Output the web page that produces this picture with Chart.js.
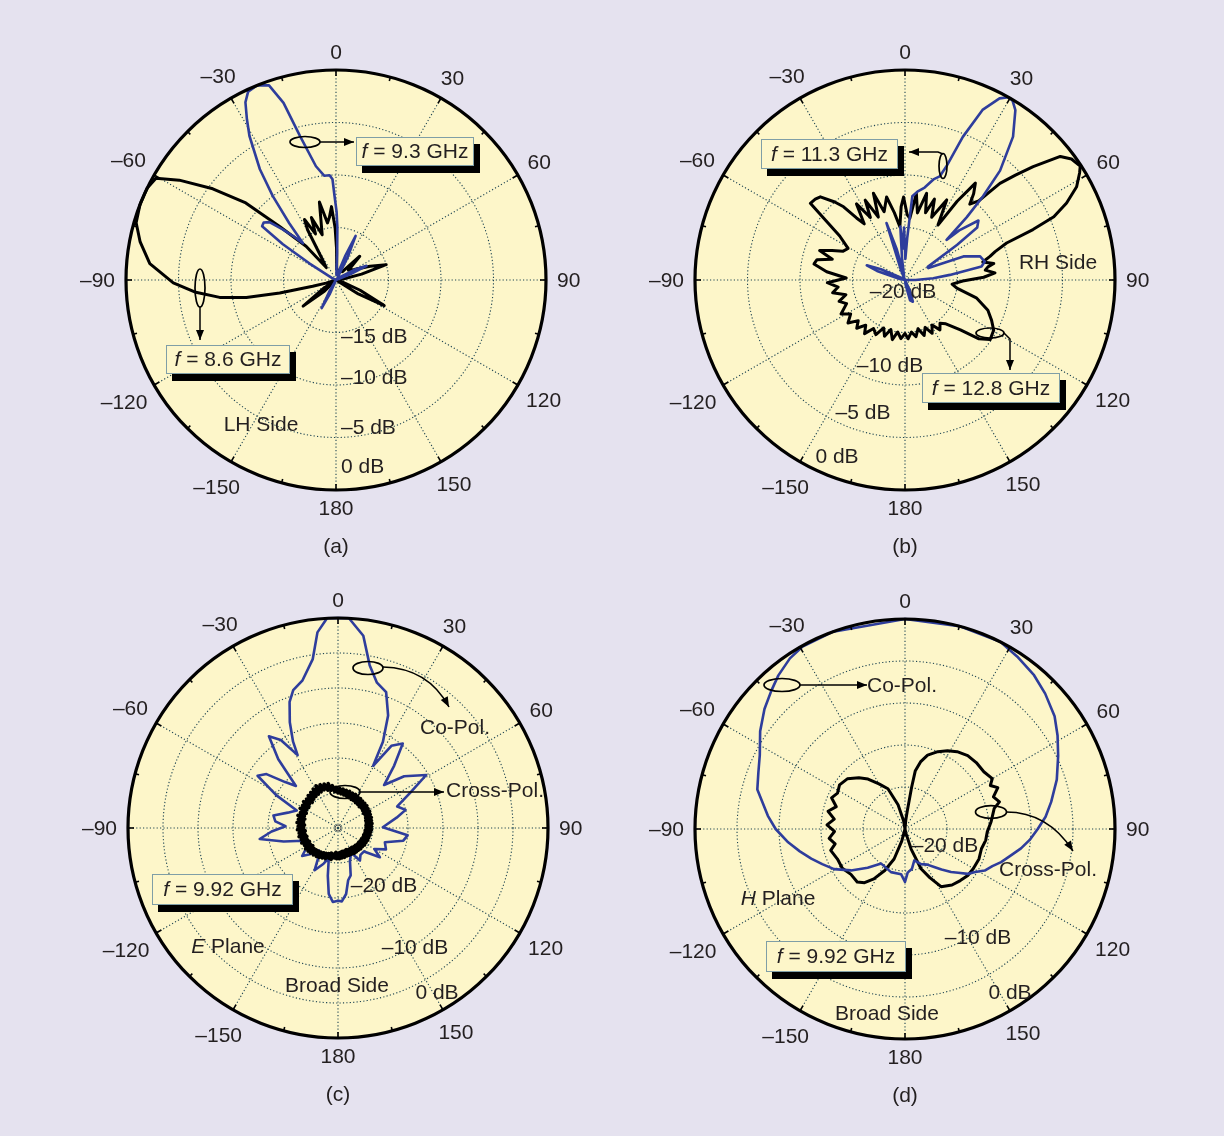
<!DOCTYPE html>
<html>
<head>
<meta charset="utf-8">
<script src="https://cdn.jsdelivr.net/npm/chart.js@4.4.1/dist/chart.umd.min.js"></script>
<style>
  html, body { margin: 0; padding: 0; background: #e5e2ef; }
  #page { position: relative; width: 1224px; height: 1136px; overflow: hidden; background: #e5e2ef; }
  #page canvas { position: absolute; }
</style>
</head>
<body>
<div id="page">
  <canvas id="pa" width="560" height="560" style="left:56px;top:0px"></canvas>
  <canvas id="pb" width="560" height="560" style="left:625px;top:0px"></canvas>
  <canvas id="pc" width="560" height="560" style="left:58px;top:548px"></canvas>
  <canvas id="pd" width="560" height="560" style="left:625px;top:549px"></canvas>
</div>
<script>
// Angular tick labels (degrees, clockwise from broadside)
const angleTicks = [0, 30, 60, 90, 120, 150, 180, -150, -120, -90, -60, -30];

// (a) LH side: 9.3 GHz (blue) and 8.6 GHz (black), normalised gain in dB
const aBlueDeg = [-180,-160,-156,-153,-150,-146,-70,-62,-58,-56,-54,-51.5,-49,-46.5,-44,-42,-39.5,-37,-34.5,-31,-29,-27,-25,-22,-19,-16.5,-14,-10,-6.5,-3.5,-2,-1,0.5,1.5,2.5,4,10,18,21,24,27,30,40,55,61,65,68,75,100];
const aBlueDb  = [-20,-20,-18.5,-17,-18.8,-20,-20,-19.5,-17,-13.9,-11.3,-11.2,-11.6,-13,-14.3,-15.3,-13,-10,-7.2,-4,-2.5,-1,-0.2,0,-0.4,-2.4,-5.9,-9,-10,-10,-10.4,-12,-13.5,-15,-17.5,-19.5,-19.5,-19,-17.5,-15.4,-17.5,-19.5,-19.8,-19.5,-18,-16.8,-18.5,-20,-20];
const aBlackDeg = [-180,-140,-134,-128.5,-124,-118,-110,-107.5,-105,-103,-101,-98.5,-95,-91,-85,-79,-74,-69,-64,-60.5,-57.5,-53.5,-49.5,-46.5,-41.5,-38,-33,-29.5,-27.5,-24,-21.5,-17,-12,-8.5,-6,-3.5,-1,1,4,38,45,52,60,68,73,77,85,105,113,118,122,130];
const aBlackDb  = [-20,-20,-18.5,-16,-18.5,-20,-20,-19,-17.7,-14.5,-11.3,-8.8,-6.6,-4.5,-2.2,-1,-0.2,0,0,-0.3,-2.3,-5.4,-8.7,-12.6,-15.7,-18.5,-17.5,-14.5,-13.5,-15.2,-13.6,-15.5,-12.4,-14.5,-14,-13,-15,-17,-19,-19,-16.8,-18.5,-18,-16.5,-15,-17.5,-19.5,-19.5,-17.5,-14.8,-17.5,-20];

// (b) RH side: 11.3 GHz (blue) and 12.8 GHz (black)
const bBlueDeg = [-180,-100,-78,-72,-69,-66,-60,-30,-22,-18,-15,-12,-8,-5,-3,-1,1,3,5,8,12,16,18.5,20,22,24.5,27.5,29.5,31,33,37,41,43,44.5,46,47.5,51,54,56,60,63,68,72.5,77,80,83.5,86.5,90,100,150,155,160,166,172];
const bBlueDb  = [-20,-20,-19.5,-17.2,-16.1,-17.5,-19.5,-20,-19,-14.3,-17,-19.5,-18,-14.9,-17,-15,-18,-16,-12,-11.5,-11,-10,-9.6,-8.5,-5.3,-2.2,-0.5,0,-0.1,-0.7,-2.9,-6.2,-9.1,-11.6,-14.5,-13,-11,-11.5,-14,-17.5,-17.5,-14,-12.5,-12.2,-12.6,-15.7,-17.3,-19,-20,-20,-19,-17.8,-18,-19.5];
const bBlackDeg = [-180,-176,-172,-168,-164,-160,-156,-152,-147,-143,-139,-135,-131,-127,-122,-118,-112,-108,-104,-100,-96,-92,-88,-84,-80,-77,-74,-71,-68,-65,-61,-56,-53,-51,-48,-45.5,-42,-40,-38,-36,-32.5,-29,-26.5,-23,-20,-17,-12.5,-9,-5.5,-3,-1,2,4.5,7.5,10.5,14,17,20,23,27.5,31,33.5,36,38.5,40.5,43,44.5,46.5,48.5,51.5,54,57,58.5,61.5,64.5,67,68.5,70,72.5,74.5,77,79.5,81,83,85.5,88,91,95,99,104,110,115,119.5,125,128.5,132,137,141,145,149,153,157,161,165,169,173,177];
const bBlackDb  = [-14.9,-14.4,-15,-14.2,-15.1,-14.3,-15,-14.1,-14.5,-13.6,-14.3,-13.5,-14.1,-13.2,-13.9,-13.1,-14,-13.4,-14.2,-13,-13.6,-12.6,-14.4,-12.5,-11.2,-11.4,-12.8,-11.4,-12.5,-13.5,-13.8,-12.5,-10.5,-8.4,-8.5,-8.7,-10,-10.9,-12.5,-13.4,-11.4,-13.2,-11.5,-13.5,-11.2,-13.2,-11.9,-13.5,-14.9,-13,-12.1,-13.8,-14.1,-11.7,-13.5,-11.5,-13.3,-11.8,-13.5,-11.4,-13.9,-11,-8.6,-9.5,-10.5,-9.7,-7.1,-5.5,-3.7,-1.1,-0.4,-0.1,-0.5,-1.4,-2.95,-4.6,-6.9,-9.7,-11,-11.6,-12.4,-11.4,-12,-12.3,-11.4,-12.5,-14.5,-15.5,-15,-13,-11.6,-10.9,-10.3,-10.1,-11,-12.9,-14.3,-14.7,-14.2,-15,-14.3,-15.1,-14.4,-15.2,-14.5,-15,-14.4];

// (c) E plane at 9.92 GHz: co-pol (blue) and cross-pol (black, sampled every 2.5 deg)
const cBlueDeg = [-180,-176,-172,-168,-163,-158,-151,-146,-140,-133,-128,-120,-110,-104,-98,-93,-88,-84,-79,-73,-67,-62,-57,-53,-49,-45,-41,-37,-33,-29,-27.5,-24.5,-21,-18,-13.5,-8.5,-6,-3,0,3,7.5,11,15,19.5,24,27.5,29.5,33,37.5,42,47,52,59,64,70,75,80,89,96,101,107,114,120,125,132,140,146,152,160,165,169,173,177];
const cBlueDb  = [-19.6,-19.4,-20.5,-23,-25.5,-24.5,-23.1,-25,-25.8,-24.5,-23.5,-25,-24.7,-22,-18.7,-20.5,-22.5,-21,-20.6,-22.5,-23.6,-20,-16.3,-17.2,-20,-21.5,-17,-13.6,-15,-18.1,-16.1,-13.4,-10.7,-9.3,-8.3,-5.6,-1.9,0,0,0,-2.3,-6.3,-8.5,-9.4,-12.4,-16.1,-19.8,-16,-14.8,-18,-21,-18,-15.3,-18.5,-21,-20,-21.5,-23.6,-20,-20.5,-23,-22.5,-24,-22.7,-25,-25,-24.4,-26,-25,-23,-22.4,-20.5,-19.5];
const cBlackDeg = Array.from({ length: 144 }, (_, i) => -180 + 2.5 * i);
const cBlackDb  = [
  -26.4,-25.6,-26.5,-25.7,-26.2,-25.4,-26.3,-25.5,-26.1,-25.3,-26.0,-25.2,-25.9,-25.0,-25.8,-24.9,-25.7,-24.8,-25.6,-24.7,
  -25.5,-24.6,-25.6,-24.5,-25.4,-24.6,-25.5,-24.4,-25.3,-24.5,-25.4,-24.3,-25.2,-24.4,-25.3,-24.2,-25.1,-24.3,-25.2,-24.1,
  -25.0,-24.2,-25.1,-24.0,-24.9,-24.2,-25.0,-23.9,-24.8,-24.0,-24.9,-23.8,-24.7,-23.9,-24.8,-23.7,-24.6,-23.6,-24.5,-23.4,
  -24.4,-23.2,-24.3,-23.3,-24.2,-23.4,-24.4,-23.5,-24.5,-23.9,-24.8,-24.2,-25.0,-24.3,-25.1,-24.4,-25.2,-24.5,-25.3,-24.5,
  -25.4,-24.6,-25.5,-24.6,-25.5,-24.7,-25.6,-24.7,-25.6,-24.8,-25.7,-24.8,-25.6,-24.8,-25.7,-24.9,-25.8,-24.9,-25.7,-25.0,
  -25.8,-25.0,-25.9,-25.1,-25.9,-25.1,-26.0,-25.2,-26.0,-25.2,-26.1,-25.3,-26.1,-25.3,-26.2,-25.4,-26.2,-25.4,-26.3,-25.5,
  -26.3,-25.5,-26.4,-25.6,-26.4,-25.6,-26.5,-25.7,-26.5,-25.7,-26.6,-25.7,-26.6,-25.8,-26.6,-25.8,-26.7,-25.8,-26.6,-25.7,
  -26.6,-25.7,-26.5,-25.6
];

// (d) H plane at 9.92 GHz: co-pol (blue) and cross-pol (black)
const dBlueDeg = [-180,-175,-162,-145.5,-136,-127.5,-119.5,-113,-107.5,-102,-96.5,-90,-84.5,-75,-69,-63,-56,-49.5,-44,-39.5,-34,-29.5,-20,0,15,27,33,40,46,53,58.5,64.5,72,79.5,85,90,95,99.5,104,109,113,117.5,121.5,125.5,129.5,133,138,142.5,148,155.5,163.5,170,176.5];
const dBlueDb  = [-18.7,-19.6,-19.6,-20,-18.6,-16.9,-15.3,-14.3,-13.3,-12.2,-11,-9.6,-8.6,-6.8,-6.3,-5.6,-4.2,-3,-2.1,-1.3,-0.5,-0.1,0,0,0,0,-0.5,-1.1,-1.8,-2.7,-3.7,-4.8,-6,-7.3,-8.2,-9.2,-10.1,-11,-12,-12.9,-13.7,-14.3,-15.2,-15.8,-16.8,-17.5,-18.5,-19.3,-20,-20.4,-21.1,-20.2,-19.8];
const dBlackDeg = [-180,-170,-165,-160,-154,-148,-143,-138,-130,-122,-114,-106,-102,-97,-92,-87,-82,-77,-72,-67,-62,-56,-49,-42,-36.5,-30,-23,-16,-10,-4,0,5,7,9,10,13,17,23,28.5,34,40.5,47,54,60,63,66,70,74,77,85,92,98,104.5,112,120,126.5,133,140,148,153,158,163,168,172];
const dBlackDb  = [-25,-25,-23.5,-21.2,-19.5,-18,-17,-16.5,-16.6,-16.2,-16.2,-15.8,-16.5,-15.9,-16.6,-15.7,-16.5,-15.6,-16.4,-15.5,-15.9,-15.6,-15.9,-16.8,-17.6,-18.8,-19.8,-22,-24,-25,-25,-24,-23,-20,-18,-16.8,-15.8,-15,-14.4,-13.9,-13.5,-13.4,-13.4,-13,-13.6,-12.9,-13.8,-13.3,-14.1,-14.7,-15.2,-15.3,-15.6,-15.5,-15.6,-15.7,-16,-16.3,-16.9,-18.5,-19.9,-22.5,-24.5,-25];

// ---------------------------------------------------------------------------
const FONT = '"Liberation Sans", Arial, Helvetica, sans-serif';
const FSIZE = 21;
const DISK = '#fdf6c9';
const GRID = '#1f4654';
const BLUE = '#2e3d9c';
const INK = '#231f20';
const STEPS = 720;                 // half-degree spokes around the circle
const spokeLabels = Array.from({ length: STEPS }, (_, i) => i / 2);

function spoke(deg) {
  return Math.round((((deg % 360) + 360) % 360) * 2) % STEPS;
}
function series(degs, dbs) {
  const out = new Array(STEPS).fill(null);
  degs.forEach((a, i) => { out[spoke(a)] = dbs[i]; });
  return out;
}
function angleText(d) { return d < 0 ? '\u2013' + Math.abs(d) : String(d); }

function fGHz(v) { return [['f', true], [' = ' + v + ' GHz', false]]; }

const panels = [
  {
    canvas: 'pa', left: 56, top: 0, min: -20, caption: '(a)',
    series: [
      { deg: aBlueDeg, db: aBlueDb, color: BLUE, width: 2.6 },
      { deg: aBlackDeg, db: aBlackDb, color: '#000', width: 3 }
    ],
    dbLabels: [['\u201315 dB', 341, 337, 'left'], ['\u201310 dB', 341, 378, 'left'], ['\u20135 dB', 341, 428, 'left'], ['0 dB', 341, 467, 'left']],
    texts: [[[['LH Side', false]], 261, 425, 'center']],
    boxes: [[356, 137, 118, 29, fGHz('9.3')], [166, 345, 124, 29, fGHz('8.6')]],
    ellipses: [[305, 142, 15, 5.5], [200, 288, 5, 19]],
    arrows: [{ pts: [[320, 142], [354, 142]] }, { pts: [[200, 307], [200, 340]] }]
  },
  {
    canvas: 'pb', left: 625, top: 0, min: -20, caption: '(b)',
    series: [
      { deg: bBlueDeg, db: bBlueDb, color: BLUE, width: 2.6 },
      { deg: bBlackDeg, db: bBlackDb, color: '#000', width: 3 }
    ],
    dbLabels: [['\u201320 dB', 903, 292, 'center'], ['\u201310 dB', 890, 366, 'center'], ['\u20135 dB', 863, 413, 'center'], ['0 dB', 837, 457, 'center']],
    texts: [[[['RH Side', false]], 1058, 263, 'center']],
    boxes: [[761, 139, 137, 30, fGHz('11.3')], [922, 373, 138, 30, fGHz('12.8')]],
    ellipses: [[943, 166, 4, 12.5], [990, 333, 14, 5]],
    arrows: [{ pts: [[943, 154], [938, 152], [909, 152]] }, { pts: [[1004, 333], [1010, 339], [1010, 370]] }]
  },
  {
    canvas: 'pc', left: 58, top: 548, min: -30, caption: '(c)', hub: true,
    series: [
      { deg: cBlackDeg, db: cBlackDb, color: '#000', width: 3.6 },
      { deg: cBlueDeg, db: cBlueDb, color: BLUE, width: 2.6 }
    ],
    dbLabels: [['\u201320 dB', 384, 886, 'center'], ['\u201310 dB', 415, 948, 'center'], ['0 dB', 437, 993, 'center']],
    texts: [
      [[['Co-Pol.', false]], 455, 728, 'center'],
      [[['Cross-Pol.', false]], 446, 791, 'left'],
      [[['E', true], [' Plane', false]], 228, 947, 'center'],
      [[['Broad Side', false]], 337, 986, 'center']
    ],
    boxes: [[152, 874, 141, 31, fGHz('9.92')]],
    ellipses: [[368, 668, 15, 6.5], [345, 792, 15, 6.5]],
    arrows: [{ pts: [[383, 667], [428, 668], [449, 707]], curved: true }, { pts: [[360, 792], [444, 792]] }]
  },
  {
    canvas: 'pd', left: 625, top: 549, min: -25, caption: '(d)',
    series: [
      { deg: dBlueDeg, db: dBlueDb, color: BLUE, width: 2.6 },
      { deg: dBlackDeg, db: dBlackDb, color: '#000', width: 3 }
    ],
    dbLabels: [['\u201320 dB', 945, 846, 'center'], ['\u201310 dB', 978, 938, 'center'], ['0 dB', 1010, 993, 'center']],
    texts: [
      [[['Co-Pol.', false]], 867, 686, 'left'],
      [[['Cross-Pol.', false]], 1048, 870, 'center'],
      [[['H', true], [' Plane', false]], 778, 899, 'center'],
      [[['Broad Side', false]], 887, 1014, 'center']
    ],
    boxes: [[766, 941, 140, 31, fGHz('9.92')]],
    ellipses: [[782, 685, 18, 6.5], [991, 812, 15.5, 6.3]],
    arrows: [{ pts: [[800, 685], [867, 685]] }, { pts: [[1006, 812], [1048, 812], [1073, 851]], curved: true }]
  }
];

function fontOf(italic) { return (italic ? 'italic ' : '') + FSIZE + 'px ' + FONT; }

function richText(ctx, parts, x, y, align) {
  let total = 0;
  parts.forEach(([t, it]) => { ctx.font = fontOf(it); total += ctx.measureText(t).width; });
  let cx = align === 'left' ? x : x - total / 2;
  ctx.textAlign = 'left';
  ctx.textBaseline = 'middle';
  ctx.fillStyle = INK;
  parts.forEach(([t, it]) => {
    ctx.font = fontOf(it);
    ctx.fillText(t, cx, y);
    cx += ctx.measureText(t).width;
  });
}

function arrowHead(ctx, from, to) {
  const ang = Math.atan2(to[1] - from[1], to[0] - from[0]);
  const L = 10, W = 4;
  ctx.beginPath();
  ctx.moveTo(to[0], to[1]);
  ctx.lineTo(to[0] - L * Math.cos(ang) + W * Math.sin(ang), to[1] - L * Math.sin(ang) - W * Math.cos(ang));
  ctx.lineTo(to[0] - L * Math.cos(ang) - W * Math.sin(ang), to[1] - L * Math.sin(ang) + W * Math.cos(ang));
  ctx.closePath();
  ctx.fill();
}

function panelPlugin(p) {
  const X = (x) => x - p.left;
  const Y = (y) => y - p.top;
  return {
    id: 'panel_' + p.canvas,
    beforeDraw(chart) {
      const s = chart.scales.r, ctx = chart.ctx;
      ctx.save();
      ctx.beginPath();
      ctx.arc(s.xCenter, s.yCenter, s.drawingArea, 0, Math.PI * 2);
      ctx.fillStyle = DISK;
      ctx.fill();
      ctx.restore();
    },
    afterDraw(chart) {
      const s = chart.scales.r, ctx = chart.ctx, R = s.drawingArea;
      ctx.save();

      if (p.hub) {
        ctx.beginPath();
        ctx.arc(s.xCenter, s.yCenter, 3, 0, Math.PI * 2);
        ctx.strokeStyle = '#555';
        ctx.lineWidth = 1;
        ctx.stroke();
      }

      // rim and rim ticks
      ctx.beginPath();
      ctx.arc(s.xCenter, s.yCenter, R, 0, Math.PI * 2);
      ctx.strokeStyle = '#000';
      ctx.lineWidth = 3.2;
      ctx.stroke();
      ctx.lineWidth = 1.6;
      for (let d = 0; d < 360; d += 15) {
        const len = d % 30 === 0 ? 6 : 4;
        const a = s.getPointPosition(spoke(d), R);
        const b = s.getPointPosition(spoke(d), R - len);
        ctx.beginPath();
        ctx.moveTo(a.x, a.y);
        ctx.lineTo(b.x, b.y);
        ctx.stroke();
      }

      // angle labels
      ctx.font = FSIZE + 'px ' + FONT;
      ctx.fillStyle = INK;
      ctx.textAlign = 'center';
      ctx.textBaseline = 'middle';
      angleTicks.forEach((d) => {
        const t = angleText(d);
        const w = ctx.measureText(t).width;
        const th = d * Math.PI / 180;
        const dist = R + 11 + Math.abs(Math.sin(th)) * w / 2 + Math.abs(Math.cos(th)) * 7;
        const q = s.getPointPosition(spoke(d), dist);
        ctx.fillText(t, q.x, q.y + 1);
      });

      // level labels
      p.dbLabels.forEach(([t, x, y, al]) => richText(ctx, [[t, false]], X(x), Y(y), al));

      // free text
      p.texts.forEach(([parts, x, y, al]) => richText(ctx, parts, X(x), Y(y), al));

      // frequency boxes with drop shadow
      p.boxes.forEach(([x, y, w, h, parts]) => {
        ctx.fillStyle = '#000';
        ctx.fillRect(X(x) + 6, Y(y) + 7, w, h);
        ctx.fillStyle = DISK;
        ctx.fillRect(X(x), Y(y), w, h);
        ctx.strokeStyle = '#7f9ea6';
        ctx.lineWidth = 1;
        ctx.strokeRect(X(x) + 0.5, Y(y) + 0.5, w - 1, h - 1);
        richText(ctx, parts, X(x) + w / 2, Y(y) + h / 2 + 1, 'center');
      });

      // ellipse markers
      ctx.strokeStyle = '#000';
      ctx.lineWidth = 1.7;
      p.ellipses.forEach(([cx, cy, rx, ry]) => {
        ctx.beginPath();
        ctx.ellipse(X(cx), Y(cy), rx, ry, 0, 0, Math.PI * 2);
        ctx.stroke();
      });

      // arrows
      ctx.fillStyle = '#000';
      ctx.lineWidth = 1.5;
      p.arrows.forEach(({ pts, curved }) => {
        const q = pts.map(([x, y]) => [X(x), Y(y)]);
        const n = q.length;
        ctx.beginPath();
        ctx.moveTo(q[0][0], q[0][1]);
        if (curved) {
          ctx.quadraticCurveTo(q[1][0], q[1][1], q[2][0], q[2][1]);
        } else {
          for (let i = 1; i < n; i++) ctx.lineTo(q[i][0], q[i][1]);
        }
        ctx.stroke();
        arrowHead(ctx, q[n - 2], q[n - 1]);
      });

      // caption
      ctx.font = FSIZE + 'px ' + FONT;
      ctx.fillStyle = INK;
      ctx.textAlign = 'center';
      ctx.textBaseline = 'middle';
      ctx.fillText(p.caption, s.xCenter, s.yCenter + 267);

      ctx.restore();
    }
  };
}

panels.forEach((p) => {
  new Chart(document.getElementById(p.canvas), {
    type: 'radar',
    data: {
      labels: spokeLabels,
      datasets: p.series.map((sr) => ({
        data: series(sr.deg, sr.db),
        borderColor: sr.color,
        backgroundColor: 'rgba(0,0,0,0)',
        borderWidth: sr.width,
        borderJoinStyle: 'round',
        borderCapStyle: 'round',
        fill: false,
        spanGaps: true,
        tension: 0,
        pointRadius: 0,
        pointHoverRadius: 0
      }))
    },
    options: {
      responsive: false,
      animation: false,
      events: [],
      layout: { padding: 70 },
      plugins: { legend: { display: false }, tooltip: { enabled: false } },
      scales: {
        r: {
          min: p.min,
          max: 0,
          startAngle: 0,
          ticks: { stepSize: 5, display: false },
          pointLabels: { display: false },
          grid: { circular: true, color: GRID, lineWidth: 1.1 },
          border: { dash: [1.2, 2.2] },
          angleLines: {
            display: true,
            color: GRID,
            lineWidth: (ctx) => (ctx.index % 60 === 0 ? 1.1 : 0),
            borderDash: [1.2, 2.2]
          }
        }
      }
    },
    plugins: [panelPlugin(p)]
  });
});
</script>
</body>
</html>
